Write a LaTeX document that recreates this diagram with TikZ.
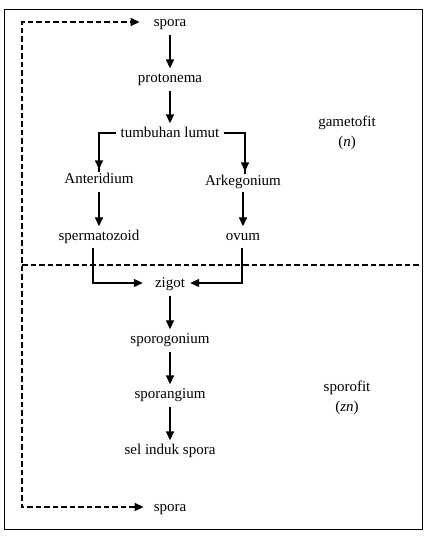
\documentclass[tikz,border=0pt]{standalone}
\usepackage{fontspec}
\setmainfont{Liberation Serif}
\usetikzlibrary{arrows.meta}
\begin{document}
\begin{tikzpicture}[x=1pt,y=-1pt,
  lbl/.style={font=\fontsize{15}{17}\selectfont, inner sep=0pt, text height=11pt, text depth=2pt},
  tip/.style={-{Triangle[length=9pt,width=8pt]}},
  arr/.style={line width=1.6pt, tip},
  conn/.style={line width=1.2pt},
  dashln/.style={line width=1.6pt, dash pattern=on 5.5pt off 3pt}
]
\useasboundingbox (0,0) rectangle (433,537);
\draw[line width=0.9pt] (4,9) rectangle (422,529);

\node[lbl] (spora1) at (170,22) {spora};
\node[lbl] (proto) at (170,78) {protonema};
\node[lbl] (lumut) at (170,133) {tumbuhan lumut};
\node[lbl] (anter) at (99,179) {Anteridium};
\node[lbl] (arke) at (243,181) {Arkegonium};
\node[lbl] (sperm) at (99,236) {spermatozoid};
\node[lbl] (ovum) at (243,236) {ovum};
\node[lbl] (zigot) at (170,283) {zigot};
\node[lbl] (sporog) at (170,339) {sporogonium};
\node[lbl] (sporang) at (170,394) {sporangium};
\node[lbl] (sel) at (170,450) {sel induk spora};
\node[lbl] (spora2) at (170,507) {spora};

\node[lbl] (game) at (347,122) {gametofit};
\node[lbl] (gamen) at (347,142) {(\textit{n})};
\node[lbl] (sporo) at (347,387) {sporofit};
\node[lbl] (sporon) at (347,407) {(\textit{zn})};

\draw[arr, shorten <=6pt, shorten >=3pt] (spora1.south) -- (proto.north);
\draw[arr, shorten <=6pt, shorten >=3pt] (proto.south) -- (lumut.north);
\draw[conn, shorten <=4pt] (lumut.west) -| (anter.north);
\draw[arr, shorten >=3pt] (anter.north |- lumut.west) -- (anter.north);
\draw[conn, shorten <=4pt] (lumut.east) -| ([xshift=2pt]arke.north);
\draw[arr, shorten >=3pt] ([xshift=2pt]arke.north |- lumut.east) -- ([xshift=2pt]arke.north);
\draw[arr, shorten <=6pt, shorten >=3pt] (anter.south) -- (sperm.north);
\draw[arr, shorten <=4pt, shorten >=3pt] (arke.south) -- (ovum.north);

\draw[conn, tip, shorten <=5pt, shorten >=12pt] ([xshift=-6pt]sperm.south) |- (zigot.west);
\draw[conn, tip, shorten <=5pt, shorten >=5pt] ([xshift=-1pt]ovum.south) |- (zigot.east);

\draw[arr, shorten <=6pt, shorten >=3pt] (zigot.south) -- (sporog.north);
\draw[arr, shorten <=6pt, shorten >=3pt] (sporog.south) -- (sporang.north);
\draw[arr, shorten <=6pt, shorten >=3pt] (sporang.south) -- (sel.north);

\coordinate (ct) at (22,22);
\coordinate (dl) at (22,265);
\coordinate (dr) at (422,265);
\draw[dashln, {Triangle[length=9pt,width=8pt]}-{Triangle[length=9pt,width=8pt]}, shorten <=10pt, shorten >=14pt] (spora2.west) -| (ct) -- (spora1.west);
\draw[dashln] (dl) -- (dr);
\end{tikzpicture}
\end{document}
